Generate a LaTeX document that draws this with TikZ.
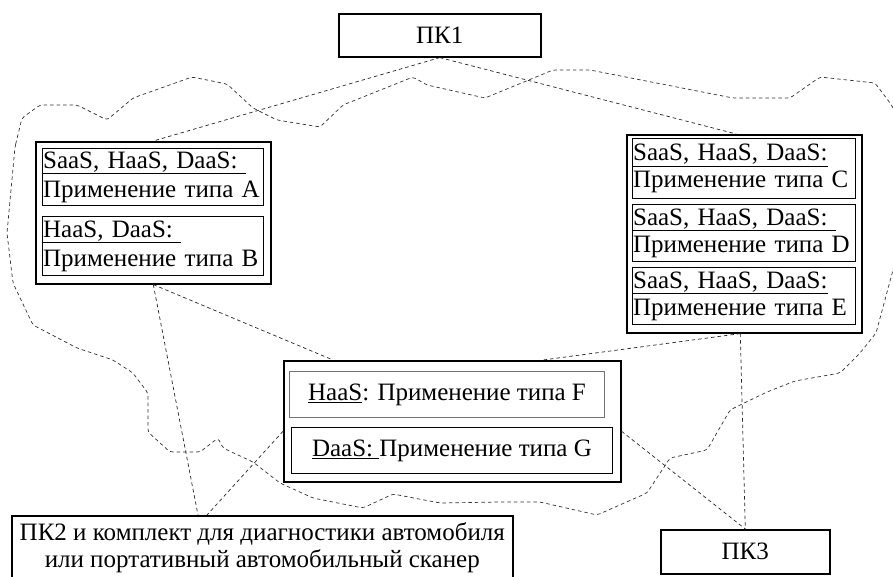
\documentclass[tikz,border=0pt]{standalone}
\usepackage{fontspec}
\setmainfont{Liberation Serif}
\begin{document}
\begin{tikzpicture}[x=1pt,y=-1pt,
  every node/.style={font=\fontsize{25}{29}\selectfont},
  grp/.style={draw, line width=1.6pt, inner sep=0pt, anchor=north west},
  app/.style={draw, line width=1.2pt, inner xsep=0.5pt, inner ysep=0pt, anchor=north west, align=left},
  appc/.style={draw, line width=1pt, inner sep=0pt, anchor=north west, align=center},
  pc/.style={draw, line width=1.6pt, inner sep=0pt, anchor=north west, align=center},
  link/.style={draw=black!85, dash pattern=on 3.5pt off 3pt, line width=0.7pt},
  cloudline/.style={draw=black!80, dash pattern=on 3.5pt off 3pt, line width=0.7pt, rounded corners=3pt}]
\useasboundingbox (0,0) rectangle (893,576);

% cloud outline
\draw[cloudline] (15,147) -- (22,118) -- (40,105) -- (77,105) -- (107,120) -- (133,98) -- (192,77) -- (227,84) -- (253,108) -- (277,120) -- (320,127) -- (343,105) -- (413,77) -- (427,85) -- (485,98) -- (553,70) -- (590,70) -- (733,98) -- (790,98) -- (820,77) -- (875,83) -- (893,107) -- (905,190) -- (893,270) -- (876,333) -- (860,353) -- (840,373) -- (795,381) -- (767,392) -- (740,405) -- (730,410) -- (707,450) -- (670,458) -- (647,493) -- (597,515) -- (540,502) -- (500,502) -- (440,503) -- (393,494) -- (363,508) -- (313,498) -- (280,483) -- (253,462) -- (223,448) -- (218,438) -- (200,452) -- (170,452) -- (148,432) -- (148,393) -- (133,373) -- (113,360) -- (77,348) -- (33,325) -- (13,283) -- (7,233) -- cycle;

% PCs
\node[pc, minimum width=202pt, minimum height=43pt] (PK1) at (338,13) {ПК1};
\node[pc, minimum width=501pt, minimum height=64pt, font=\fontsize{25}{27}\selectfont] (PK2) at (11,515) {ПК2 и комплект для диагностики автомобиля\\или портативный автомобильный сканер};
\node[pc, minimum width=169pt, minimum height=44pt] (PK3) at (660,529) {ПК3};

% left group
\node[grp, minimum width=235pt, minimum height=142pt] (L) at (35,141) {};
\node[app, text width=220pt, minimum height=57pt] (A) at (42,148) {\underline{SaaS, HaaS, DaaS:\ }\\Применение типа A};
\node[app, text width=220pt, minimum height=59pt] (B) at (42,216) {\underline{HaaS, DaaS:\ }\\Применение типа B};

% right group
\node[grp, minimum width=235pt, minimum height=198pt] (R) at (626,134) {};
\node[app, text width=222pt, minimum height=60pt, font=\fontsize{25}{27}\selectfont] (C) at (632,138) {\underline{SaaS, HaaS, DaaS:}\\Применение типа C};
\node[app, text width=222pt, minimum height=57pt, font=\fontsize{25}{27}\selectfont] (D) at (632,204) {\underline{SaaS, HaaS, DaaS:\ }\\Применение типа D};
\node[app, text width=222pt, minimum height=57pt, font=\fontsize{25}{27}\selectfont] (E) at (632,267) {\underline{SaaS, HaaS, DaaS:}\\Применение типа E};

% centre group
\node[grp, minimum width=337pt, minimum height=121pt] (Cg) at (283,360) {};
\node[appc, draw=black!55, minimum width=315pt, minimum height=46pt] (F) at (289,371) {\underline{HaaS}: Применение типа F};
\node[appc, minimum width=321pt, minimum height=46pt] (G) at (291,427) {\underline{DaaS:\ }Применение типа G};

% connectors
\draw[link] (PK1.south) -- (L.north);
\draw[link] (PK1.south) -- ([xshift=-8pt]R.north);
\draw[link] (L.south) -- ([xshift=50pt]Cg.north west);
\draw[link] (L.south) -- ([xshift=187pt]PK2.north west);
\draw[link] ([yshift=-10pt]Cg.west) -- ([xshift=196pt]PK2.north west);
\draw[link] ([xshift=-4pt]R.south) -- ([xshift=260pt]Cg.north west);
\draw[link] ([xshift=-4pt]R.south) -- (PK3.north);
\draw[link] ([yshift=-10pt]Cg.east) -- (PK3.north);
\end{tikzpicture}
\end{document}
